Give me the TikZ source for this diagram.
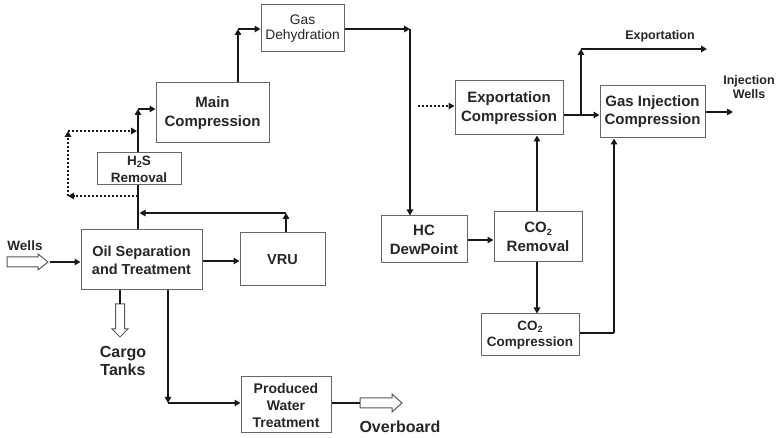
\documentclass[tikz,border=0pt]{standalone}
\usepackage{fontspec}
\setmainfont{Liberation Sans}
\usetikzlibrary{arrows.meta,calc}
% small lowered "2" for chemical formulas
\newcommand{\lowtwo}{\raisebox{-0.35ex}{\fontsize{9}{9}\selectfont 2}}
\begin{document}
\begin{tikzpicture}[x=1pt,y=-1pt,
  box/.style={draw=black!60, line width=1pt, fill=white, inner sep=0pt,
    align=center, text=black!85, font=\bfseries\fontsize{15}{19}\selectfont},
  flow/.style={line width=1.8pt, draw=black!90, -{Triangle[length=6pt,width=6.5pt]}},
  plainline/.style={line width=1.8pt, draw=black!90},
  bypass/.style={line width=1.8pt, draw=black!90, dash pattern=on 2pt off 2pt,
    -{Triangle[length=6pt,width=6.5pt]}},
  hollow/.style={draw=black!65, line width=1pt, fill=white, line join=miter},
  lbl/.style={align=center, inner sep=0pt, text=black!85}
]
\useasboundingbox (0,0) rectangle (777,438);

% process units
\node[box, minimum width=121, minimum height=60,
  font=\bfseries\fontsize{14.5}{18}\selectfont] (oil) at (141.5,260) {Oil Separation\\and Treatment};
\node[box, minimum width=85, minimum height=53,
  font=\bfseries\fontsize{14.5}{18}\selectfont] (vru) at (282.5,259.5) {VRU};
\node[box, minimum width=84, minimum height=32,
  font=\bfseries\fontsize{13.5}{17}\selectfont] (h2s) at (139,169) {H\lowtwo S\\Removal};
\node[box, minimum width=113, minimum height=60] (main) at (212.5,113) {Main\\Compression};
\node[box, minimum width=83, minimum height=47,
  font=\fontsize{13.8}{14.5}\selectfont] (dehyd) at (302.5,28.5) {Gas\\Dehydration};
\node[box, minimum width=86, minimum height=47] (hc) at (424,239.5) {HC\\DewPoint};
\node[box, minimum width=88, minimum height=50] (co2r) at (538,237) {CO\lowtwo\\Removal};
\node[box, minimum width=98, minimum height=42,
  font=\bfseries\fontsize{13.5}{16}\selectfont] (co2c) at (530,335) {CO\lowtwo\\Compression};
\node[box, minimum width=108, minimum height=54] (expc) at (509,108) {Exportation\\Compression};
\node[box, minimum width=105, minimum height=52,
  font=\bfseries\fontsize{15}{18}\selectfont] (gic) at (652.5,112) {Gas Injection\\Compression};
\node[box, minimum width=90, minimum height=56,
  font=\bfseries\fontsize{14}{17}\selectfont] (pwt) at (286,405) {Produced\\Water\\Treatment};

% free labels
\node[lbl, font=\bfseries\fontsize{13.5}{16}\selectfont] (wellslbl) at (25,246) {Wells};
\node[lbl, font=\bfseries\fontsize{16}{18}\selectfont] (cargolbl) at (123,361) {Cargo\\Tanks};
\node[lbl, font=\bfseries\fontsize{16}{18}\selectfont] (overlbl) at (400,427) {Overboard};
\node[lbl, font=\bfseries\fontsize{12.5}{14}\selectfont] (explbl) at (660,36) {Exportation};
\node[lbl, font=\bfseries\fontsize{12.5}{13.5}\selectfont] (injlbl) at (749,87) {Injection\\Wells};

% hollow block arrows (inlet / outlets)
\draw[hollow] (7,257) -- (38,257) -- (38,254) -- (48,262) -- (38,270) -- (38,267) -- (7,267) -- cycle;
\coordinate (wellsout) at (50,262);
\coordinate (cargoin) at (120,304);
\draw[hollow] (115.5,304) -- (124.5,304) -- (124.5,329) -- (128,329) -- (120,337)
  -- (112,329) -- (115.5,329) -- cycle;
\coordinate (overin) at (360,403);
\draw[hollow] (360,398) -- (392,398) -- (392,394) -- (402,403) -- (392,412)
  -- (392,408) -- (360,408) -- cycle;

% oil train
\draw[flow] (wellsout) -- (wellsout -| oil.west);
\draw[flow] (oil.east |- 0,261) -- (vru.west |- 0,261);
\draw[plainline] (oil.south -| cargoin) -- (cargoin);

% vapour recovery return
\coordinate (vrutop) at (286,213);
\coordinate (trunkin) at (139.5,213);
\draw[flow] (vru.north -| vrutop) -- (vrutop);
\draw[flow] (vrutop) -- (trunkin);

% gas trunk through H2S removal to main compression
\coordinate (c1) at (138,109);
\draw[plainline] (oil.north -| c1) -- (h2s.south -| c1);
\draw[flow] (h2s.north -| c1) -- (c1);
\draw[flow] (c1) -- (c1 -| main.west);

% H2S removal bypass
\coordinate (d1) at (138,196);
\coordinate (d2) at (68,196);
\coordinate (d3) at (68,131);
\coordinate (d4) at (137,131);
\draw[bypass] (d1) -- (d2);
\draw[bypass] (d2) -- (d3);
\draw[bypass] (d3) -- (d4);

% main compression to dehydration
\coordinate (c2) at (238,29);
\draw[flow] (main.north -| c2) -- (c2);
\draw[flow] (c2) -- (c2 -| dehyd.west);

% dehydration to dew point control
\coordinate (c3) at (410,29);
\draw[flow] (dehyd.east |- c3) -- (c3);
\draw[flow] (c3) -- (c3 |- hc.north);

% alternative feed to exportation compression
\coordinate (altin) at (418,106);
\draw[bypass] (altin) -- (altin -| expc.west);

% CO2 removal and compression
\draw[flow] (hc.east |- 0,240) -- (co2r.west |- 0,240);
\coordinate (co2x) at (537,0);
\draw[flow] (co2r.north -| co2x) -- (expc.south -| co2x);
\draw[flow] (co2r.south -| co2x) -- (co2c.north -| co2x);
\coordinate (c4) at (614,333);
\draw[plainline] (co2c.east |- c4) -- (c4);
\draw[flow] (c4) -- (c4 |- gic.south);

% export and injection
\coordinate (split) at (581,115);
\coordinate (c5) at (581,49);
\coordinate (expout) at (707,49);
\draw[flow] (expc.east |- split) -- (gic.west |- split);
\draw[flow] (split) -- (c5);
\draw[flow] (c5) -- (expout);
\coordinate (injout) at (733,112);
\draw[flow] (gic.east |- injout) -- (injout);

% produced water
\coordinate (c6) at (168,403);
\draw[flow] (oil.south -| c6) -- (c6);
\draw[flow] (c6) -- (c6 -| pwt.west);
\draw[plainline] (pwt.east |- overin) -- (overin);
\end{tikzpicture}
\end{document}
